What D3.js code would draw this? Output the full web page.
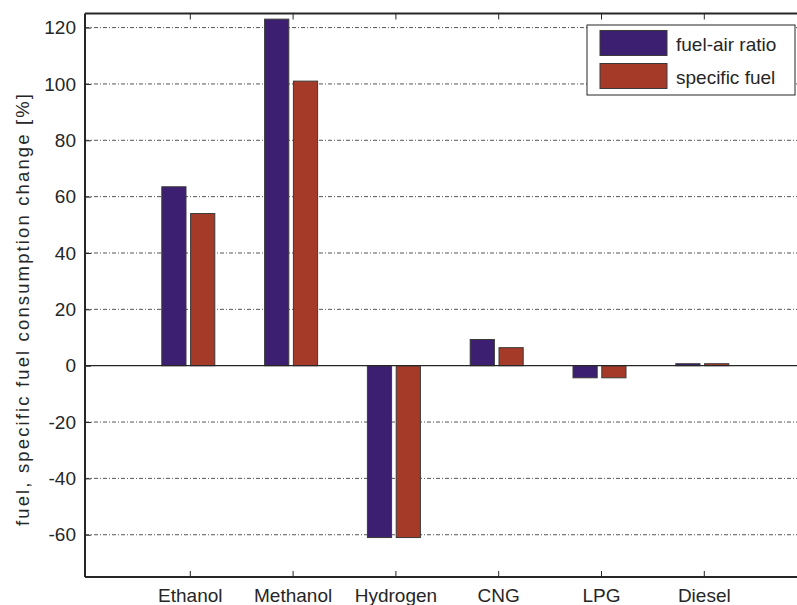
<!DOCTYPE html>
<html>
<head>
<meta charset="utf-8">
<script src="https://cdn.jsdelivr.net/npm/d3@7"></script>
<style>
   body { margin: 0; background: #fff; }
   svg { display: block; font-family: "Liberation Sans", Arial, sans-serif; }
</style>
</head>
<body>
<div id="insert-bar-chart"></div>
<script>
// Data
const categories = ["Ethanol", "Methanol", "Hydrogen", "CNG", "LPG", "Diesel"];
const seriesNames = ["fuel-air ratio", "specific fuel"];
const fuelAirRatio = [63.5, 123, -61, 9.3, -4.3, 0.7];
const specificFuel = [54, 101, -61, 6.4, -4.3, 0.7];
const yTicks = [-60, -40, -20, 0, 20, 40, 60, 80, 100, 120];
const seriesColors = ["#3c1f70", "#a63a28"];

const plotBarChart = (svgElemId) => {
   const svgWidth = 797;
   const svgHeight = 605;
   const left = 85;
   const top = 13.5;
   const bottom = 577;
   const step = 102.8;

   const svg = d3.select(svgElemId)
                  .append("svg")
                  .attr("width", svgWidth)
                  .attr("height", svgHeight);

   // **Scales
   // categories sit at 1..6 on a 0..7 axis (right end is cut off by the image)
   const xScale = d3.scaleLinear()
                     .domain([0, categories.length + 1])
                     .range([left + 2, left + 2 + step * (categories.length + 1)]);
   const yScale = d3.scaleLinear()
                     .domain([-75, 125])
                     .range([bottom, top]);
   // position of the two bars inside one category
   const innerScale = d3.scaleBand()
                        .domain(seriesNames)
                        .range([-28, 25])
                        .paddingInner(0.16);

   // **Grid lines
   svg.append("g")
      .selectAll("line")
      .data(yTicks.filter(t => t !== 0))
      .enter()
      .append("line")
      .attr("x1", left)
      .attr("x2", svgWidth)
      .attr("y1", d => yScale(d))
      .attr("y2", d => yScale(d))
      .attr("stroke", "#555")
      .attr("stroke-width", 1)
      .attr("stroke-dasharray", "4,2,1,2");

   // **Bars
   const rows = categories.map((c, i) => ({ cat: c, idx: i + 1, vals: [fuelAirRatio[i], specificFuel[i]] }));
   const groups = svg.append("g")
                     .selectAll("g")
                     .data(rows)
                     .enter()
                     .append("g")
                     .attr("transform", d => `translate(${xScale(d.idx)},0)`);
   groups.selectAll("rect")
         .data(d => d.vals.map((v, j) => ({ name: seriesNames[j], value: v, color: seriesColors[j] })))
         .enter()
         .append("rect")
         .attr("x", d => innerScale(d.name))
         .attr("width", innerScale.bandwidth())
         .attr("y", d => yScale(Math.max(0, d.value)))
         .attr("height", d => Math.abs(yScale(d.value) - yScale(0)))
         .attr("fill", d => d.color)
         .attr("stroke", "#3a3a3a")
         .attr("stroke-width", 1);

   // zero baseline
   svg.append("line")
      .attr("x1", left)
      .attr("x2", svgWidth)
      .attr("y1", yScale(0))
      .attr("y2", yScale(0))
      .attr("stroke", "#262626")
      .attr("stroke-width", 1.2);

   // **Axes (box style, ticks pointing in)
   const xAxisBottom = d3.axisBottom(xScale)
                        .tickValues(d3.range(1, categories.length + 1))
                        .tickSizeInner(-6)
                        .tickSizeOuter(0)
                        .tickPadding(12)
                        .tickFormat(d => categories[d - 1]);
   const gx = svg.append("g")
                  .attr("transform", `translate(0, ${bottom})`)
                  .call(xAxisBottom);
   gx.selectAll("text")
     .attr("font-size", 19)
     .attr("fill", "#262626")
     .attr("font-family", "Liberation Sans, Arial, sans-serif");

   const xAxisTop = d3.axisTop(xScale)
                     .tickValues(d3.range(1, categories.length + 1))
                     .tickSizeInner(-6)
                     .tickSizeOuter(0)
                     .tickFormat("");
   const gxTop = svg.append("g")
                     .attr("transform", `translate(0, ${top})`)
                     .call(xAxisTop);

   // plain hyphen for negatives, like the original
   const yAxis = d3.axisLeft(yScale)
                  .tickValues(yTicks)
                  .tickSizeInner(-6)
                  .tickSizeOuter(0)
                  .tickPadding(9)
                  .tickFormat(d => String(d));
   const gy = svg.append("g")
                  .attr("transform", `translate(${left}, 0)`)
                  .call(yAxis);
   gy.selectAll("text")
     .attr("font-size", 19)
     .attr("fill", "#262626")
     .attr("font-family", "Liberation Sans, Arial, sans-serif");

   [gx, gxTop, gy].forEach(g => {
      g.select(".domain").attr("stroke", "#262626").attr("stroke-width", 2);
      g.selectAll(".tick line").attr("stroke", "#262626").attr("stroke-width", 1);
   });
   // extend the domain lines to the box corners
   gy.select(".domain").attr("d", `M0,${top}V${bottom}`);
   gx.select(".domain").attr("d", `M${left},0H${svgWidth}`);
   gxTop.select(".domain").attr("d", `M${left},0H${svgWidth}`);

   // **Y axis title
   const yTitle = svg.append("text")
                     .attr("transform", "translate(29, 310) rotate(-90)")
                     .attr("text-anchor", "middle")
                     .attr("font-size", 18.5)
                     .attr("fill", "#262626")
                     .text("fuel, specific fuel consumption change [%]");
   yTitle.attr("textLength", 432).attr("lengthAdjust", "spacing");

   // **Legend
   const legend = svg.append("g").attr("transform", "translate(587, 25)");
   legend.append("rect")
         .attr("width", 208)
         .attr("height", 70)
         .attr("fill", "#fff")
         .attr("stroke", "#262626")
         .attr("stroke-width", 1);
   seriesNames.forEach((name, i) => {
      legend.append("rect")
            .attr("x", 13)
            .attr("y", 5.5 + i * 33)
            .attr("width", 67)
            .attr("height", 25)
            .attr("fill", seriesColors[i])
            .attr("stroke", "#3a3a3a")
            .attr("stroke-width", 1);
      legend.append("text")
            .attr("x", 89)
            .attr("y", 25.5 + i * 33)
            .attr("font-size", 19)
            .attr("fill", "#262626")
            .text(name);
   });
};

plotBarChart("#insert-bar-chart");
</script>
</body>
</html>
